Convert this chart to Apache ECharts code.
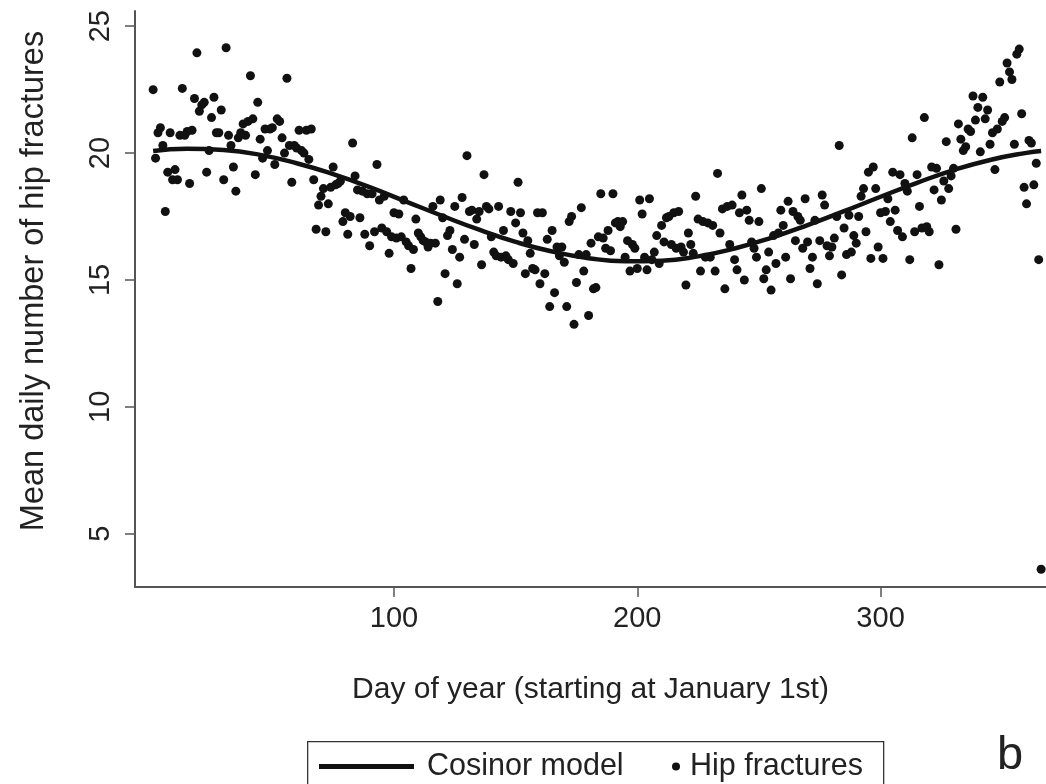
<!DOCTYPE html>
<html>
<head>
<meta charset="utf-8">
<script src="https://cdn.jsdelivr.net/npm/echarts@6/dist/echarts.min.js"></script>
<style>
html,body{margin:0;padding:0;background:#fff;}
#chart{width:1046px;height:784px;}
</style>
</head>
<body>
<div id="chart"></div>
<script>
// Mean daily number of hip fractures, day 1 .. 366
const fractures = [
  22.5,19.8,20.8,21.0,20.3,17.7,19.25,20.8,18.95,19.35,
  18.95,20.7,22.55,20.7,20.85,18.8,20.9,22.15,23.95,21.65,
  21.9,22.0,19.25,20.1,21.4,22.2,20.8,20.8,21.7,18.95,24.15,
  20.7,20.3,19.45,18.5,20.6,20.8,21.15,20.7,21.25,23.05,
  21.35,19.15,22.0,20.55,19.8,20.95,20.1,20.95,21.0,19.55,
  21.35,21.25,20.6,20.0,22.95,20.3,18.85,20.3,20.2,20.9,20.1,
  20.0,20.9,19.75,20.95,18.95,17.0,17.95,18.3,18.6,16.9,
  18.0,18.65,19.45,18.75,18.8,18.9,17.3,17.65,16.8,17.5,
  20.4,19.1,18.55,17.45,18.5,16.8,18.4,16.35,18.4,16.9,19.55,
  18.15,17.05,18.3,16.9,16.05,16.7,17.65,16.65,17.6,16.7,18.15,
  16.5,16.35,15.45,16.2,17.4,16.85,16.7,16.55,16.5,16.3,
  16.45,17.9,16.45,14.15,18.15,17.45,15.25,16.75,16.95,16.2,17.9,14.85,15.9,18.25,16.6,19.9,17.7,
  17.75,16.4,17.4,17.7,15.6,19.15,17.9,17.8,16.7,16.1,
  15.95,17.9,15.9,16.95,15.95,15.8,17.7,15.65,17.25,18.85,
  17.65,16.85,15.25,16.55,16.05,15.45,15.4,17.65,14.85,17.65,
  15.25,16.6,13.95,16.95,14.5,16.3,15.95,16.3,15.7,13.95,
  17.3,17.5,13.25,14.9,16.0,17.85,15.35,16.0,13.6,16.45,
  14.65,14.7,16.7,18.4,16.65,16.25,16.95,16.15,18.4,17.25,17.3,17.1,17.3,
  15.9,16.55,15.35,16.4,16.25,15.45,18.15,17.6,15.9,15.4,
  18.2,15.8,16.1,16.75,15.65,17.15,16.5,17.45,17.5,16.4,
  17.65,16.25,17.7,16.3,16.1,14.8,16.85,16.4,16.05,18.3,
  17.4,15.35,17.3,15.9,17.25,15.9,17.15,15.35,19.2,16.85,
  17.8,14.65,17.9,16.4,17.95,15.8,15.4,17.65,18.35,15.0,
  17.75,17.35,16.5,16.25,15.9,17.3,18.6,15.05,15.4,16.1,
  14.6,16.75,15.65,16.85,17.75,17.15,15.9,18.1,15.05,17.7,
  16.55,17.5,17.35,16.25,18.2,16.5,15.45,15.9,17.35,14.85,
  16.55,18.35,17.95,16.35,15.95,16.3,16.65,17.5,20.3,15.2,
  17.05,16.0,17.55,16.1,16.75,16.45,17.5,18.3,18.6,16.9,
  19.25,15.85,19.45,18.6,16.3,17.65,15.85,17.7,18.2,17.3,
  19.25,17.75,16.95,19.15,16.7,18.8,18.5,15.8,20.6,16.9,
  19.15,17.9,17.05,21.4,17.1,16.9,19.45,18.55,19.4,15.6,
  18.15,18.9,20.45,18.6,19.1,19.4,17.0,21.15,20.55,20.1,
  20.25,20.95,20.85,22.25,21.3,21.8,20.05,22.2,21.35,21.7,
  20.35,20.8,19.35,20.95,22.8,21.25,21.4,23.55,23.2,22.9,
  20.35,23.9,24.1,21.55,18.65,18.0,20.5,20.4,18.75,19.6,15.8,3.6
];

// Cosinor model curve
const cosinorDays   = [1,15,30,45,60,75,90,105,120,135,150,165,180,195,210,225,240,255,270,285,300,315,330,345,360,366];
const cosinorValues = [20.08,20.17,20.12,19.93,19.60,19.17,18.66,18.09,17.52,16.98,16.50,16.12,15.86,15.74,15.76,15.93,16.24,16.66,17.16,17.71,18.28,18.83,19.33,19.73,20.01,20.08];

const xTicks = [100, 200, 300];
const yTicks = [5, 10, 15, 20, 25];

const FONT = '"Liberation Sans", Arial, Helvetica, sans-serif';
const TXT = '#222';
const AX = '#555';

const scatterData = fractures.map((v, i) => [i + 1, v]);
const curveData = cosinorDays.map((d, i) => [d, cosinorValues[i]]);

const chart = echarts.init(document.getElementById('chart'), null, {renderer: 'canvas'});
chart.setOption({
  animation: false,
  backgroundColor: '#fff',
  textStyle: {fontFamily: FONT},
  grid: {left: 135, top: 11, width: 911, height: 576, containLabel: false},
  xAxis: {
    type: 'value', min: -6.45, max: 368,
    name: 'Day of year (starting at January 1st)',
    nameLocation: 'middle', nameGap: 88,
    nameTextStyle: {fontSize: 30, color: TXT, fontFamily: FONT},
    axisLine: {show: true, onZero: false, lineStyle: {color: AX, width: 2}},
    axisTick: {show: true, length: 10, inside: false, customValues: xTicks, lineStyle: {color: AX, width: 1.5}},
    axisLabel: {show: true, customValues: xTicks, margin: 17, fontSize: 29, color: TXT, fontFamily: FONT},
    splitLine: {show: false}
  },
  yAxis: {
    type: 'value', min: 2.9, max: 25.6,
    name: 'Mean daily number of hip fractures',
    nameLocation: 'middle', nameGap: 84, nameRotate: 90,
    nameTextStyle: {fontSize: 32.5, color: TXT, fontFamily: FONT, padding: [0, 0, 0, 36]},
    axisLine: {show: true, onZero: false, lineStyle: {color: AX, width: 2}},
    axisTick: {show: true, length: 10, inside: false, customValues: yTicks, lineStyle: {color: AX, width: 1.5}},
    axisLabel: {show: true, customValues: yTicks, rotate: 90, margin: 20, fontSize: 29, color: TXT, fontFamily: FONT},
    splitLine: {show: false}
  },
  legend: [
    {
      data: [{name: 'Cosinor model', icon: 'rect'}],
      left: 319, top: 751, padding: 0,
      itemWidth: 95, itemHeight: 5,
      textStyle: {fontSize: 30.5, color: TXT, fontFamily: FONT, padding: [0, 0, 0, 8]},
      selectedMode: false
    },
    {
      data: [{name: 'Hip fractures', icon: 'circle'}],
      left: 672, top: 751, padding: 0,
      itemWidth: 8, itemHeight: 8,
      textStyle: {fontSize: 30.5, color: TXT, fontFamily: FONT, padding: [0, 0, 0, 5]},
      selectedMode: false
    }
  ],
  graphic: [
    {type: 'rect', left: 307, top: 741, z: -1,
     shape: {width: 576, height: 60},
     style: {fill: '#fff', stroke: '#333', lineWidth: 1.3}},
    {type: 'text', left: 997, top: 733,
     style: {text: 'b', fontSize: 47, fill: TXT, fontFamily: FONT}}
  ],
  series: [
    {
      name: 'Hip fractures', type: 'scatter',
      data: scatterData, symbol: 'circle', symbolSize: 9,
      itemStyle: {color: '#111', opacity: 1}, z: 2
    },
    {
      name: 'Cosinor model', type: 'line',
      data: curveData, smooth: true, showSymbol: false, symbol: 'none',
      lineStyle: {color: '#111', width: 4.5},
      itemStyle: {color: '#111'}, z: 3
    }
  ]
});
</script>
</body>
</html>
